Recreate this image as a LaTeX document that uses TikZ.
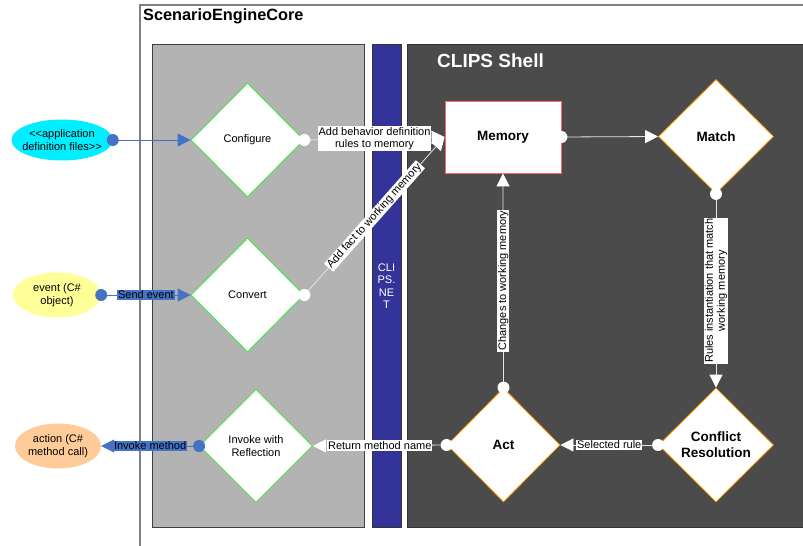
\documentclass[tikz,border=0pt]{standalone}
\usepackage{fontspec}
\setmainfont{Liberation Sans}
\usetikzlibrary{shapes.geometric,arrows.meta}
\definecolor{panelgray}{HTML}{B3B3B3}
\definecolor{paneldark}{HTML}{4B4B4B}
\definecolor{stripblue}{HTML}{333399}
\definecolor{linkblue}{HTML}{4472C4}
\definecolor{lgreen}{HTML}{33EE33}
\definecolor{lorange}{HTML}{FF9900}
\definecolor{lred}{HTML}{FF6666}
\definecolor{ecyan}{HTML}{00EEFF}
\definecolor{eyellow}{HTML}{FFFF99}
\definecolor{eorange}{HTML}{FFCC99}
\definecolor{wline}{HTML}{E6E6E6}
\tikzset{
  lefttask/.style={diamond,draw=lgreen,fill=white,line width=0.8pt,minimum width=113pt,minimum height=114pt,inner sep=0pt,align=center,font=\fontsize{11}{13}\selectfont},
  righttask/.style={diamond,draw=lorange,fill=white,line width=0.8pt,minimum width=115pt,minimum height=114pt,inner sep=0pt,align=center,font=\fontsize{13.5}{16}\selectfont\bfseries},
  actor/.style={ellipse,inner xsep=-4pt,inner ysep=0pt,align=center,font=\fontsize{11}{12.5}\selectfont},
  whitelink/.style={draw=wline,line width=0.8pt,-{Triangle[length=13pt,width=13pt,fill=white,color=white]}},
  bluelink/.style={draw=linkblue,line width=0.8pt,-{Triangle[length=13pt,width=13pt,fill=linkblue,color=linkblue]}},
  wdot/.style={fill=white},
  bdot/.style={fill=linkblue},
  wlabel/.style={fill=white,inner sep=1pt,align=center,font=\fontsize{11}{12}\selectfont},
  blabel/.style={fill=linkblue,inner sep=1pt,font=\fontsize{11}{12}\selectfont},
}
\begin{document}
\begin{tikzpicture}[x=1pt,y=-1pt]
\useasboundingbox (0,0) rectangle (803,546);
\fill[white] (0,0) rectangle (803,546);
% outer frame
\draw[gray,line width=1.5pt] (140,546) -- (140,5) -- (803,5);
\node[anchor=north west,inner sep=0pt,font=\fontsize{16.3}{18}\selectfont\bfseries] (title) at (143,8) {ScenarioEngineCore};
% panels
\draw[fill=panelgray,draw=black!75,line width=0.8pt] (152,44) rectangle (364,527);
\draw[fill=stripblue,draw=black!80,line width=0.8pt] (372,44) rectangle (401,527);
\draw[fill=paneldark,draw=black!80,line width=0.8pt] (407,44) rectangle (806,527);
\node[anchor=west,inner sep=0pt,text=white,font=\fontsize{19}{21}\selectfont\bfseries] (shell) at (437,61) {CLIPS Shell};
\node[text=white,align=center,font=\fontsize{11}{12.5}\selectfont] (clipsnet) at (386.5,286) {CLI\\PS.\\NE\\T};
% actors
\node[actor,fill=ecyan,minimum width=101pt,minimum height=41pt] (app) at (62,140) {{<}{<}application\\definition files{>}{>}};
\node[actor,fill=eyellow,minimum width=88pt,minimum height=45pt] (event) at (57,295) {event (C\#\\object)};
\node[actor,fill=eorange,minimum width=86pt,minimum height=45pt] (action) at (58,446) {action (C\#\\method call)};
% left tasks
\node[lefttask] (configure) at (247.5,140) {Configure};
\node[lefttask] (convert) at (247.5,295) {Convert};
\node[lefttask,minimum width=113pt,minimum height=113pt] (invoke) at (256,446) {Invoke with\\Reflection};
% right side
\node[draw=lred,fill=white,line width=0.8pt,minimum width=116pt,minimum height=72pt,inner sep=0pt,font=\fontsize{13.5}{16}\selectfont\bfseries] (memory) at (503,137) {Memory};
\node[righttask] (match) at (716,136.5) {Match};
\node[righttask] (conflict) at (716,445) {Conflict\\Resolution};
\node[righttask,minimum width=113pt] (act) at (503.5,445) {Act};
% blue links
\draw[bluelink] (app.east) -- (configure.west);
\draw[bluelink] (event.east) -- node[blabel] {Send event} (convert.west);
\draw[bluelink] (invoke.west) -- node[blabel] {Invoke method} (action.east);
\fill[bdot] (app.east) circle[radius=6pt];
\fill[bdot] (event.east) circle[radius=6pt];
\fill[bdot] (invoke.west) circle[radius=6pt];
% white links
\draw[whitelink] (configure.east) -- node[wlabel] {Add behavior definition\\rules to memory} (memory.west);
\draw[whitelink] (convert.east) -- node[wlabel,sloped] {Add fact to working memory} (memory.west);
\draw[whitelink] (memory.east) -- (match.west);
\draw[whitelink] (match.south) -- node[wlabel,rotate=90] {Rules instantiation that match\\working memory} (conflict.north);
\draw[whitelink] (conflict.west) -- node[wlabel] {Selected rule} (act.east);
\draw[whitelink] (act.north) -- node[wlabel,rotate=90] {Changes to working memory} (memory.south);
\draw[whitelink] (act.west) -- node[wlabel] {Return method name} (invoke.east);
\fill[wdot] (configure.east) circle[radius=6pt];
\fill[wdot] (convert.east) circle[radius=6pt];
\fill[wdot] (memory.east) circle[radius=6pt];
\fill[wdot] (match.south) circle[radius=6pt];
\fill[wdot] (conflict.west) circle[radius=6pt];
\fill[wdot] (act.north) circle[radius=6pt];
\fill[wdot] (act.west) circle[radius=6pt];
\end{tikzpicture}
\end{document}
